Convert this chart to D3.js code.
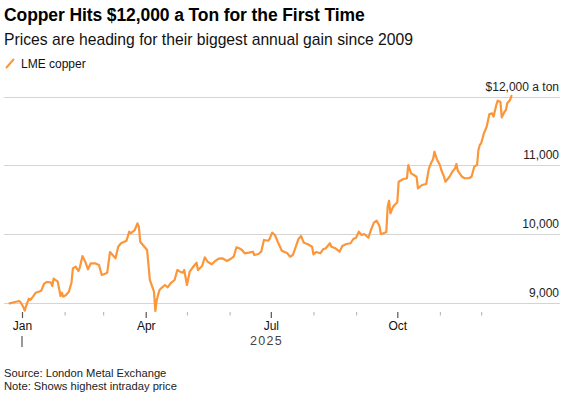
<!DOCTYPE html>
<html>
<head>
<meta charset="utf-8">
<script src="https://cdn.jsdelivr.net/npm/d3@7"></script>
<style>
  html, body { margin: 0; padding: 0; background: #fff; }
  svg { display: block; font-family: "Liberation Sans", Arial, Helvetica, sans-serif; }
</style>
</head>
<body>
<svg id="chart" width="564" height="396"></svg>
<script>
// ---- Data ----
const dates = [
  "2024-12-23","2024-12-27","2024-12-30","2024-12-31",
  "2025-01-02","2025-01-03","2025-01-04","2025-01-06","2025-01-07","2025-01-09","2025-01-11","2025-01-13","2025-01-15","2025-01-17","2025-01-19","2025-01-22","2025-01-23","2025-01-24","2025-01-27","2025-01-29","2025-01-30","2025-01-31",
  "2025-02-02","2025-02-04","2025-02-06","2025-02-07","2025-02-09","2025-02-11","2025-02-12","2025-02-14","2025-02-16","2025-02-18","2025-02-20","2025-02-23","2025-02-26","2025-02-28",
  "2025-03-02","2025-03-04","2025-03-06","2025-03-10","2025-03-12","2025-03-14","2025-03-18","2025-03-20","2025-03-21","2025-03-24","2025-03-26","2025-03-27","2025-03-28","2025-03-31",
  "2025-04-02","2025-04-04","2025-04-07","2025-04-08","2025-04-09","2025-04-11","2025-04-13","2025-04-15","2025-04-17","2025-04-19","2025-04-22","2025-04-24","2025-04-26","2025-04-28","2025-04-29",
  "2025-05-01","2025-05-03","2025-05-06","2025-05-08","2025-05-09","2025-05-12","2025-05-14","2025-05-16","2025-05-19","2025-05-21","2025-05-24","2025-05-27","2025-05-30",
  "2025-06-02","2025-06-04","2025-06-06","2025-06-08","2025-06-10","2025-06-12","2025-06-15","2025-06-18","2025-06-19","2025-06-22","2025-06-24","2025-06-26","2025-06-29","2025-06-30",
  "2025-07-02","2025-07-04","2025-07-06","2025-07-09","2025-07-13","2025-07-15","2025-07-17","2025-07-19","2025-07-21","2025-07-23","2025-07-25","2025-07-28","2025-07-31",
  "2025-08-01","2025-08-03","2025-08-06","2025-08-08","2025-08-10","2025-08-13","2025-08-14","2025-08-17","2025-08-20","2025-08-22","2025-08-25","2025-08-28","2025-08-30",
  "2025-09-01","2025-09-03","2025-09-05","2025-09-07","2025-09-10","2025-09-12","2025-09-14","2025-09-16","2025-09-18","2025-09-19","2025-09-21","2025-09-23","2025-09-24","2025-09-25","2025-09-26","2025-09-28","2025-09-29",
  "2025-10-01","2025-10-02","2025-10-05","2025-10-08","2025-10-09","2025-10-11","2025-10-13","2025-10-15","2025-10-16","2025-10-19","2025-10-22","2025-10-24","2025-10-26","2025-10-27","2025-10-28","2025-10-30",
  "2025-11-01","2025-11-02","2025-11-04","2025-11-05","2025-11-08","2025-11-10","2025-11-12","2025-11-13","2025-11-14","2025-11-17","2025-11-19","2025-11-22","2025-11-24","2025-11-26","2025-11-28","2025-11-29","2025-11-30",
  "2025-12-01","2025-12-03","2025-12-05","2025-12-07","2025-12-09","2025-12-10","2025-12-12","2025-12-13","2025-12-15","2025-12-16","2025-12-18","2025-12-19","2025-12-20","2025-12-22","2025-12-23"
];
const prices = [
  8988,9007,9022,9003,
  8930,8881,8949,9055,9036,9085,9143,9157,9172,9270,9299,9294,9240,9347,9303,9095,9143,9085,
  9109,9153,9288,9498,9522,9459,9507,9677,9594,9484,9571,9571,9546,9401,
  9415,9434,9736,9644,9813,9863,9900,10032,10008,10056,10154,10104,9886,9813,
  9765,9328,9157,8876,9036,9182,9221,9255,9221,9280,9328,9474,9449,9434,9474,
  9255,9449,9532,9580,9474,9532,9659,9594,9557,9594,9638,9644,9605,
  9638,9667,9804,9790,9765,9717,9726,9740,9692,9707,9740,9911,9900,9921,
  10017,9983,9886,9755,9717,9667,9692,9804,9921,9969,9871,9848,9813,
  9702,9736,9717,9775,9790,9863,9813,9790,9740,9823,9852,9863,9925,
  9944,10032,9983,9998,9944,10066,10163,10192,10115,9998,10008,10027,10396,10483,10300,10396,10421,
  10460,10760,10795,10810,11003,10882,10858,10833,10664,10712,10727,10955,11051,11086,11197,11076,
  11003,10931,10833,10760,10833,10906,10955,11018,10920,10833,10810,10810,10833,10979,11003,11222,11295,
  11320,11465,11561,11746,11757,11707,11878,11940,11926,11698,11780,11805,11902,11950,12010
];
const yTicks = [9000, 10000, 11000, 12000];
const topTickLabel = "$12,000 a ton";
const majorMonths = ["2025-01-01","2025-04-01","2025-07-01","2025-10-01"];
const minorMonths = ["2025-02-01","2025-03-01","2025-05-01","2025-06-01","2025-08-01","2025-09-01","2025-11-01","2025-12-01"];
const yearLabel = "2025";
const seriesName = "LME copper";
const title = "Copper Hits $12,000 a Ton for the First Time";
const subtitle = "Prices are heading for their biggest annual gain since 2009";
const source = "Source: London Metal Exchange";
const note = "Note: Shows highest intraday price";

// ---- Drawing ----
const parse = d3.utcParse("%Y-%m-%d");
const data = dates.map((d, i) => ({ date: parse(d), value: prices[i] }));
const orange = "#fb963a";

const svg = d3.select("#chart");

const x = d3.scaleUtc()
  .domain([parse("2025-01-01"), parse("2025-10-01")])
  .range([22, 397.3]);
const y = d3.scaleLinear()
  .domain([9000, 12000])
  .range([302.5, 96.6]);

// Title block
svg.append("text").attr("x", 4).attr("y", 20.5)
  .attr("font-size", 17.5).attr("font-weight", 700).attr("fill", "#000")
  .attr("letter-spacing", -0.1)
  .text(title);
svg.append("text").attr("x", 4).attr("y", 45)
  .attr("font-size", 15.7).attr("fill", "#111")
  .text(subtitle);

// Legend
svg.append("line").attr("x1", 6.5).attr("y1", 67.5).attr("x2", 13.5).attr("y2", 59.5)
  .attr("stroke", orange).attr("stroke-width", 2).attr("stroke-linecap", "round");
svg.append("text").attr("x", 21).attr("y", 67.5)
  .attr("font-size", 12).attr("fill", "#111")
  .text(seriesName);

// Gridlines + y labels
const grid = svg.append("g");
grid.selectAll("line").data(yTicks).join("line")
  .attr("x1", 4).attr("x2", 560)
  .attr("y1", d => Math.round(y(d)) + 0.5).attr("y2", d => Math.round(y(d)) + 0.5)
  .attr("stroke", "#d4d4d4").attr("stroke-width", 1);
grid.selectAll("text").data(yTicks).join("text")
  .attr("x", 559).attr("y", d => Math.round(y(d)) - 6)
  .attr("text-anchor", "end").attr("font-size", 12).attr("fill", "#222")
  .text(d => d === 12000 ? topTickLabel : d3.format(",")(d));

// X axis: major ticks with labels
const axisMajor = d3.axisBottom(x)
  .tickValues(majorMonths.map(parse))
  .tickSize(6).tickPadding(3)
  .tickFormat(d3.utcFormat("%b"));
const gMajor = svg.append("g").attr("transform", "translate(0,312)").call(axisMajor);
gMajor.select(".domain").remove();
gMajor.selectAll(".tick line").attr("stroke", "#555").attr("stroke-width", 1.2);
gMajor.selectAll(".tick text").attr("font-size", 12).attr("fill", "#111")
  .attr("font-family", "Liberation Sans, Arial, sans-serif");

// X axis: minor ticks
const axisMinor = d3.axisBottom(x)
  .tickValues(minorMonths.map(parse))
  .tickSize(3.5).tickFormat("");
const gMinor = svg.append("g").attr("transform", "translate(0,312)").call(axisMinor);
gMinor.select(".domain").remove();
gMinor.selectAll(".tick line").attr("stroke", "#bdbdbd").attr("stroke-width", 1.2);

// Year marker
const jan = x(parse(majorMonths[0]));
svg.append("line").attr("x1", jan).attr("x2", jan).attr("y1", 336).attr("y2", 347)
  .attr("stroke", "#555").attr("stroke-width", 1.2);
svg.append("text").attr("x", 266.5).attr("y", 344.5)
  .attr("text-anchor", "middle").attr("font-size", 12.5).attr("fill", "#444")
  .attr("letter-spacing", 1.3)
  .text(yearLabel);

// Price line
const line = d3.line().x(d => x(d.date)).y(d => y(d.value)).curve(d3.curveLinear);
svg.append("path").datum(data)
  .attr("d", line)
  .attr("fill", "none").attr("stroke", orange)
  .attr("stroke-width", 2.2).attr("stroke-linejoin", "round").attr("stroke-linecap", "round");

// Footer
svg.append("text").attr("x", 4).attr("y", 376.7)
  .attr("font-size", 11.2).attr("fill", "#222").text(source);
svg.append("text").attr("x", 4).attr("y", 390)
  .attr("font-size", 11.2).attr("fill", "#222").text(note);
</script>
</body>
</html>
